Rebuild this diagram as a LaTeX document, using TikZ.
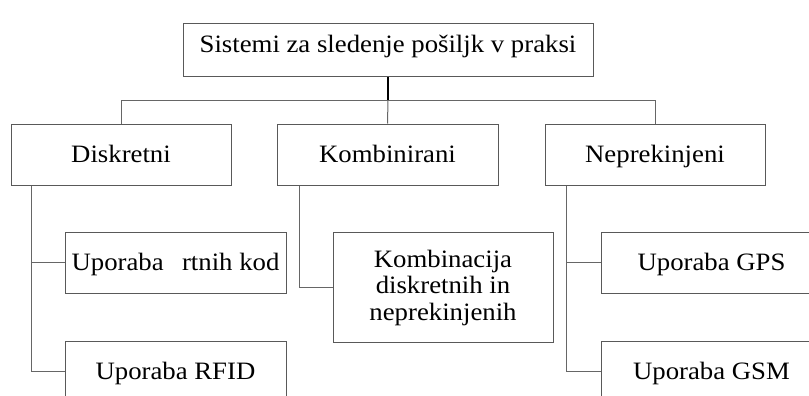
\documentclass[tikz,border=0pt]{standalone}
\usepackage{fontspec}
\setmainfont{Liberation Serif}[FakeStretch=1.07]
\begin{document}
\begin{tikzpicture}[x=1pt,y=-1pt,
  frame/.style={draw=black!65, line width=1pt, fill=white, inner sep=0pt,
    align=center, font=\fontsize{25}{26.5}\selectfont},
  box/.style={frame, text height=16.5pt, text depth=0pt},
  link/.style={draw=black!60, line width=1pt},
  trunk/.style={draw=black, line width=1.8pt}]
\useasboundingbox (0,0) rectangle (809,396);
\clip (0,0) rectangle (809,396);

% root
\node[box, minimum width=410pt, minimum height=53pt, text depth=13pt] (root) at (388,50.5)
  {Sistemi za sledenje pošiljk v praksi};

% second level
\node[box, minimum width=220pt, minimum height=61pt] (dis) at (121,154.5) {Diskretni};
\node[box, minimum width=221pt, minimum height=61pt] (kom) at (387.5,154.5) {Kombinirani};
\node[box, minimum width=220pt, minimum height=61pt] (nep) at (655,154.5) {Neprekinjeni};

% third level
\node[box, minimum width=221pt, minimum height=61pt] (crt) at (175.5,262.5) {Uporaba \hspace{0.2em} rtnih kod};
\node[box, minimum width=221pt, minimum height=61pt] (rfid) at (175.5,371.5) {Uporaba RFID};
\node[frame, minimum width=220pt, minimum height=110pt] (komb) at (443,287.5)
  {Kombinacija\\diskretnih in\\neprekinjenih};
\node[box, minimum width=221pt, minimum height=61pt] (gps) at (711.5,262.5) {Uporaba GPS};
\node[box, minimum width=221pt, minimum height=61pt] (gsm) at (711.5,371.5) {Uporaba GSM};

% bus below the root
\coordinate (bus) at (388,100.5);
\draw[link] (dis.north) |- (bus) -| (nep.north);
\draw[link] (bus) -- (kom.north);
\draw[trunk] (root.south) -- (bus);

% branches under each second-level box
\coordinate (ds) at ([xshift=21pt]dis.south west);
\coordinate (ks) at ([xshift=23pt]kom.south west);
\coordinate (ns) at ([xshift=22pt]nep.south west);
\draw[link] (ds) |- (crt.west);
\draw[link] (ds) |- (rfid.west);
\draw[link] (ks) |- (komb.west);
\draw[link] (ns) |- (gps.west);
\draw[link] (ns) |- (gsm.west);
\end{tikzpicture}
\end{document}
